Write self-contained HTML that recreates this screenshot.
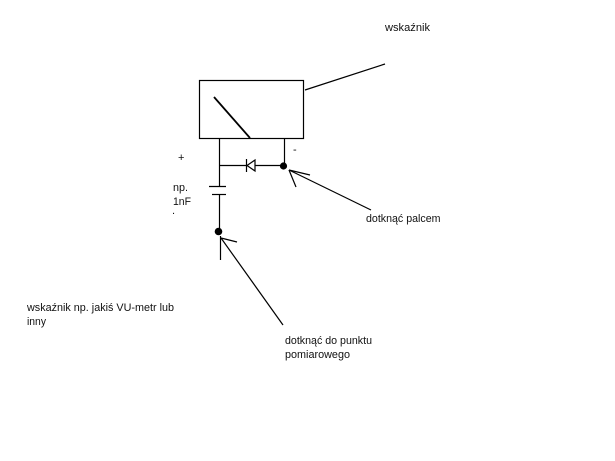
<!DOCTYPE html>
<html>
<head>
<meta charset="utf-8">
<style>
html,body{margin:0;padding:0;background:#fff;width:615px;height:461px;overflow:hidden}
svg{display:block}
text{font-family:"Liberation Sans",sans-serif;font-size:11px;fill:#111}
</style>
</head>
<body>
<svg width="615" height="461" viewBox="0 0 615 461" xmlns="http://www.w3.org/2000/svg">
<rect width="615" height="461" fill="#fff"/>
<g stroke="#000" stroke-width="1.2" fill="none">
<rect x="199.5" y="80.5" width="104" height="58"/>
<line x1="305" y1="90" x2="385" y2="64"/>
<line x1="214" y1="97" x2="250" y2="138" stroke-width="1.8"/>
<line x1="219.5" y1="138" x2="219.5" y2="186"/>
<line x1="284.5" y1="138" x2="284.5" y2="165"/>
<line x1="219" y1="165.5" x2="246" y2="165.5"/>
<line x1="255" y1="165.5" x2="284" y2="165.5"/>
<line x1="246.5" y1="159" x2="246.5" y2="172"/>
<polygon points="247,165.5 255,160 255,171"/>
<line x1="209" y1="186.5" x2="226" y2="186.5"/>
<line x1="212" y1="194.5" x2="226" y2="194.5"/>
<line x1="219.5" y1="194" x2="219.5" y2="231"/>
<line x1="220.5" y1="236" x2="220.5" y2="260"/>
<line x1="221" y1="238" x2="283" y2="325"/>
<line x1="221" y1="238" x2="237" y2="242"/>
<line x1="289" y1="170" x2="371" y2="210"/>
<line x1="289" y1="170" x2="310" y2="175"/>
<line x1="289" y1="170" x2="296" y2="187"/>
</g>
<circle cx="283.5" cy="166" r="3.6" fill="#000"/>
<circle cx="218.5" cy="231.5" r="3.8" fill="#000"/>
<text x="385" y="31" textLength="45" lengthAdjust="spacingAndGlyphs">wskaźnik</text>
<text x="178" y="161">+</text>
<text x="293" y="153">-</text>
<text x="173" y="191" textLength="15" lengthAdjust="spacingAndGlyphs">np.</text>
<text x="173" y="205" textLength="18" lengthAdjust="spacingAndGlyphs">1nF</text>
<text x="172" y="214">.</text>
<text x="366" y="222" textLength="74.5" lengthAdjust="spacingAndGlyphs">dotknąć palcem</text>
<text x="27" y="311" textLength="147" lengthAdjust="spacingAndGlyphs">wskaźnik np. jakiś VU-metr lub</text>
<text x="27" y="325" textLength="19" lengthAdjust="spacingAndGlyphs">inny</text>
<text x="285" y="344" textLength="87" lengthAdjust="spacingAndGlyphs">dotknąć do punktu</text>
<text x="285" y="358" textLength="65" lengthAdjust="spacingAndGlyphs">pomiarowego</text>
</svg>
</body>
</html>
